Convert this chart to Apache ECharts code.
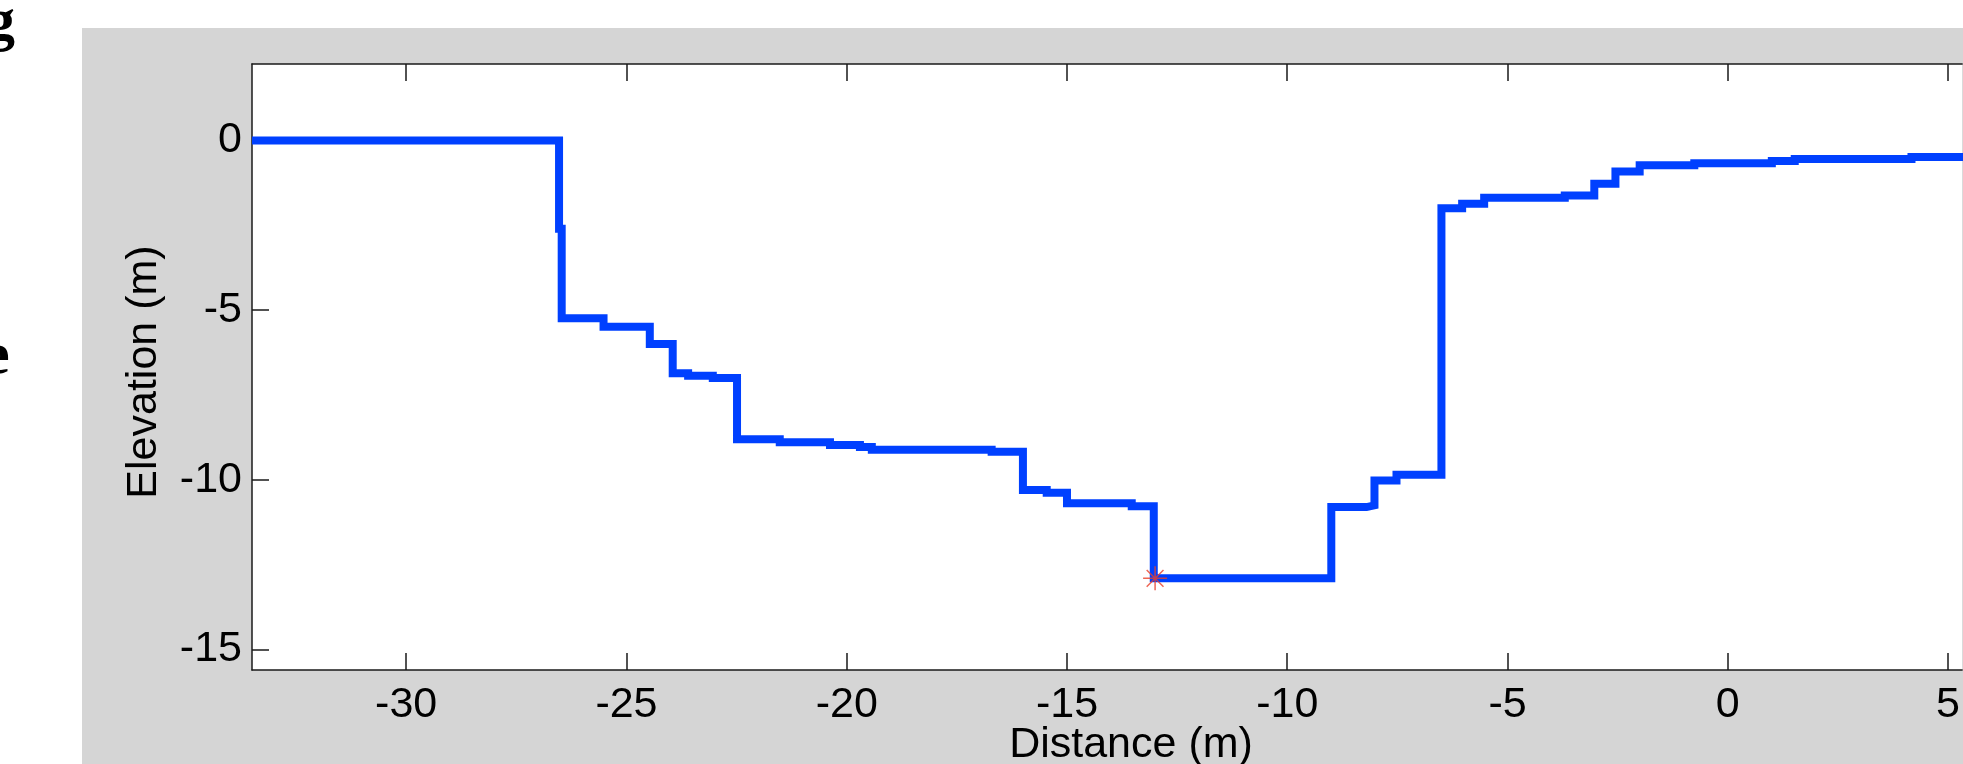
<!DOCTYPE html>
<html>
<head>
<meta charset="utf-8">
<script src="https://cdn.jsdelivr.net/npm/echarts@6/dist/echarts.min.js"></script>
<style>
html, body { margin: 0; padding: 0; background: #fff; }
#main { width: 1963px; height: 764px; }
</style>
</head>
<body>
<div id="main"></div>
<script>
// profile, drawn as steps: where each flat stretch starts (m) and its elevation (m)
var stepX = [-33.5, -26.53, -26.47, -25.52, -24.47, -23.95, -23.6, -23.04, -22.49, -21.52,
    -20.38, -19.7, -19.43, -16.71, -16.0, -15.46, -15.0, -13.53, -13.03, -9.0,
    -8.2, -8.02, -7.52, -6.5, -6.03, -5.53, -3.7, -3.03, -2.55, -2.0,
    -0.76, 1.0, 1.52, 4.17, 6.0];
var stepY = [0, -2.6, -5.24, -5.49, -6.0, -6.86, -6.93, -7.0, -8.8, -8.89,
    -8.97, -9.03, -9.11, -9.17, -10.3, -10.38, -10.69, -10.78, -12.9, -10.8,
    -10.75, -10.02, -9.85, -2.0, -1.87, -1.69, -1.62, -1.28, -0.92, -0.73,
    -0.67, -0.61, -0.55, -0.49, -0.49];

// deepest point (red star)
var lowX = [-13.0];
var lowY = [-12.9];

var xTicks = [-30, -25, -20, -15, -10, -5, 0, 5];
var yTicks = [-15, -10, -5, 0];

var profile = stepX.map(function (x, i) { return [x, stepY[i]]; });
var lowPts = lowX.map(function (x, i) { return [x, lowY[i]]; });

var font = '"Liberation Sans", Arial, Helvetica, sans-serif';
var axisCol = '#1a1a1a';

var myChart = echarts.init(document.getElementById('main'));
var option = {
    backgroundColor: '#d5d5d5',
    animation: false,
    grid: {
        left: 252, top: 64, right: 0, bottom: 94,
        show: true, backgroundColor: '#fff', borderWidth: 0
    },
    xAxis: [{
        type: 'value', position: 'bottom', min: -33.5, max: 5.32,
        axisLine: { show: true, onZero: false, lineStyle: { color: axisCol, width: 1.5 } },
        axisTick: { show: true, inside: true, length: 17, customValues: xTicks, lineStyle: { color: axisCol, width: 1.5 } },
        axisLabel: { customValues: xTicks, margin: 14, fontSize: 43, color: '#000', fontFamily: font },
        splitLine: { show: false }
    }, {
        type: 'value', position: 'top', min: -33.5, max: 5.32,
        axisLine: { show: true, onZero: false, lineStyle: { color: axisCol, width: 1.5 } },
        axisTick: { show: true, inside: true, length: 17, customValues: xTicks, lineStyle: { color: axisCol, width: 1.5 } },
        axisLabel: { show: false },
        splitLine: { show: false }
    }],
    yAxis: {
        type: 'value', min: -15.6, max: 2.25,
        axisLine: { show: true, onZero: false, lineStyle: { color: axisCol, width: 1.5 } },
        axisTick: { show: true, inside: true, length: 17, customValues: yTicks, lineStyle: { color: axisCol, width: 1.5 } },
        axisLabel: { customValues: yTicks, margin: 10, fontSize: 43, color: '#000', fontFamily: font },
        splitLine: { show: false }
    },
    graphic: [
        // white page outside the grey figure
        { type: 'rect', left: 0, top: 0, shape: { width: 1963, height: 28 }, style: { fill: '#fff' }, z: 10 },
        { type: 'rect', left: 0, top: 0, shape: { width: 82, height: 764 }, style: { fill: '#fff' }, z: 10 },
        // cut-off letters of the surrounding text
        { type: 'text', x: -15, y: -7, z: 11, style: { text: 'g', font: 'bold 60px "Liberation Serif", serif', fill: '#000' } },
        { type: 'text', x: -17, y: 327, z: 11, style: { text: 'e', font: 'bold 60px "Liberation Serif", serif', fill: '#000' } },
        // axis titles
        { type: 'text', x: 144, y: 372, rotation: Math.PI / 2, z: 11,
          style: { text: 'Elevation (m)', font: '43px ' + font, fill: '#000', align: 'center', verticalAlign: 'middle' } },
        { type: 'text', x: 1131, y: 724, z: 11,
          style: { text: 'Distance (m)', font: '43px ' + font, fill: '#000', align: 'center', verticalAlign: 'top' } }
    ],
    series: [{
        type: 'line',
        data: profile,
        step: 'end',
        showSymbol: false,
        clip: true,
        lineStyle: { color: '#0040ff', width: 8, cap: 'butt', join: 'miter' }
    }, {
        type: 'scatter',
        data: lowPts,
        symbol: 'path://M0,-10L0,10M-10,0L10,0M-7,-7L7,7M-7,7L7,-7',
        symbolSize: 24,
        itemStyle: { color: 'rgba(0,0,0,0)', borderColor: '#e8402a', borderWidth: 1.5 },
        z: 5
    }]
};

myChart.setOption(option);
</script>
</body>
</html>
